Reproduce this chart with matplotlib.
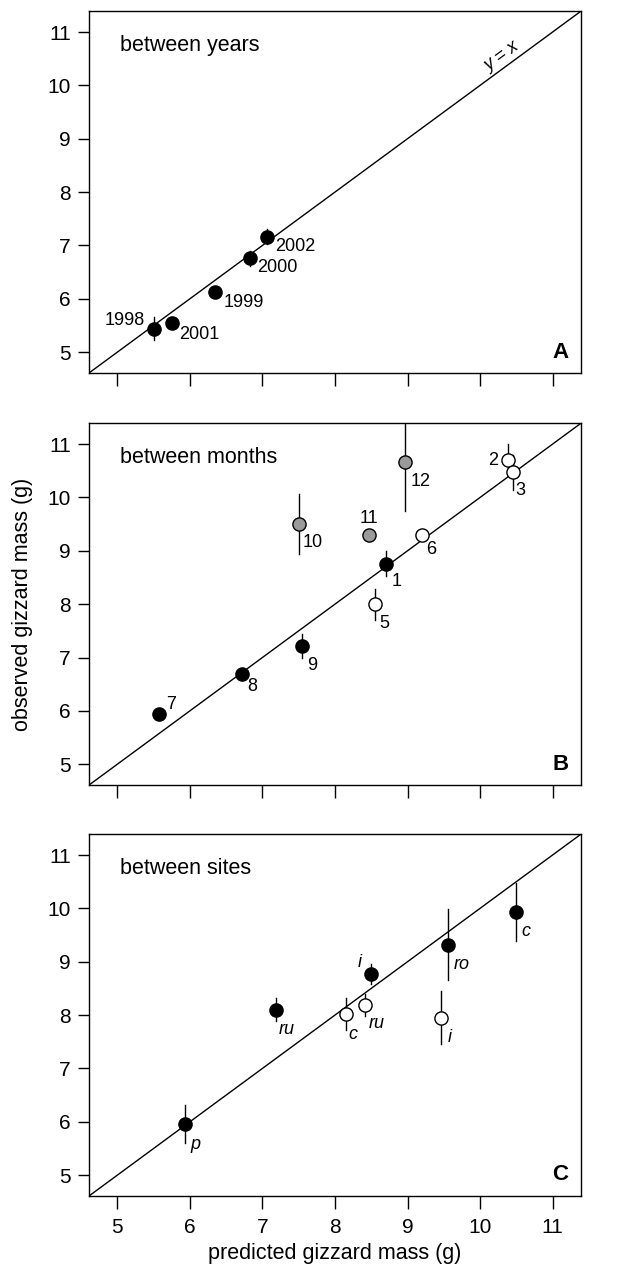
import numpy as np
import matplotlib
matplotlib.use('Agg')
import matplotlib.pyplot as plt

plt.rcParams['font.family'] = ['Liberation Sans', 'DejaVu Sans']

# panel A: between years
yr_labels = ['1998', '2001', '1999', '2000', '2002']
yr_pred = [5.50, 5.75, 6.35, 6.83, 7.06]
yr_obs = [5.44, 5.54, 6.12, 6.76, 7.16]
yr_err = [0.21, 0.08, 0.08, 0.14, 0.14]
yr_fill = ['k', 'k', 'k', 'k', 'k']

# panel B: between months
mo_labels = ['7', '8', '9', '10', '11', '12', '1', '5', '6', '2', '3']
mo_pred = [5.58, 6.72, 7.54, 7.50, 8.47, 8.97, 8.70, 8.55, 9.20, 10.38, 10.45]
mo_obs = [5.94, 6.69, 7.22, 9.50, 9.30, 10.66, 8.76, 8.00, 9.29, 10.71, 10.47]
mo_err = [0.08, 0.08, 0.22, 0.56, 0.08, 0.91, 0.23, 0.29, 0.08, 0.29, 0.33]
mo_fill = ['k', 'k', 'k', '#9a9a9a', '#9a9a9a', '#9a9a9a', 'k', 'w', 'w', 'w', 'w']

# panel C: between sites
si_labels = ['p', 'ru', 'c', 'ru', 'i', 'i', 'ro', 'c']
si_pred = [5.93, 7.19, 8.15, 8.41, 8.49, 9.46, 9.56, 10.50]
si_obs = [5.96, 8.10, 8.02, 8.19, 8.77, 7.95, 9.32, 9.93]
si_err = [0.36, 0.22, 0.30, 0.20, 0.19, 0.50, 0.67, 0.54]
si_fill = ['k', 'k', 'w', 'w', 'k', 'w', 'k', 'k']

# label offsets in points (dx, dy, ha)
yr_off = [(-6, 6, 'right'), (5, -8, 'left'), (6, -7, 'left'), (5, -7, 'left'), (6, -7, 'left')]
mo_off = [(5, 7, 'left'), (4, -9, 'left'), (4, -14, 'left'), (3, -13, 'left'), (0, 12, 'center'),
          (4, -14, 'left'), (4, -13, 'left'), (3, -14, 'left'), (3, -10, 'left'), (-7, -1, 'right'),
          (2, -13, 'left')]
si_off = [(4, -15, 'left'), (2, -14, 'left'), (2, -15, 'left'), (3, -13, 'left'), (-6, 8, 'right'),
          (5, -14, 'left'), (4, -14, 'left'), (4, -14, 'left')]

panels = [
    ('between years', 'A', yr_labels, yr_pred, yr_obs, yr_err, yr_fill, yr_off, 'normal'),
    ('between months', 'B', mo_labels, mo_pred, mo_obs, mo_err, mo_fill, mo_off, 'normal'),
    ('between sites', 'C', si_labels, si_pred, si_obs, si_err, si_fill, si_off, 'italic'),
]

lo, hi = 4.61, 11.39
ticks = np.arange(5, 12)

fig = plt.figure(figsize=(6.38, 12.73), dpi=100)
bottoms = [0.707, 0.3833, 0.0605]

for n, (title, letter, labs, xp, yo, err, fill, offs, style) in enumerate(panels):
    ax = fig.add_axes([0.1395, bottoms[n], 0.771, 0.2842])
    ax.set_xlim(lo, hi)
    ax.set_ylim(lo, hi)
    ax.plot([lo, hi], [lo, hi], color='k', lw=1.0, zorder=1)
    for i in range(len(xp)):
        ax.plot([xp[i], xp[i]], [yo[i] - err[i], yo[i] + err[i]], color='k', lw=1.0, zorder=2)
        ax.plot(xp[i], yo[i], 'o', ms=9.5, mfc=fill[i], mec='k', mew=1.0, zorder=3)
        dx, dy, ha = offs[i]
        ax.annotate(labs[i], (xp[i], yo[i]), xytext=(dx, dy), textcoords='offset points',
                    ha=ha, va='center', fontsize=13, style=style)
    ax.text(0.063, 0.905, title, transform=ax.transAxes, fontsize=15.5, va='center', ha='left')
    ax.text(0.975, 0.058, letter, transform=ax.transAxes, fontsize=16, fontweight='bold',
            va='center', ha='right')
    if n == 0:
        ax.text(10.29, 10.53, 'y = x', fontsize=13, style='italic', rotation=45,
                transform_rotates_text=True, rotation_mode='anchor', ha='center', va='center')
    ax.set_xticks(ticks)
    ax.set_yticks(ticks)
    ax.tick_params(direction='out', length=8, width=1.0, labelsize=15, pad=5)
    ax.tick_params(axis='x', length=9, pad=7)
    if n < 2:
        ax.tick_params(labelbottom=False)
    for s in ax.spines.values():
        s.set_linewidth(1.0)
    if n == 2:
        ax.set_xlabel('predicted gizzard mass (g)', fontsize=15.5, labelpad=4)

fig.text(0.036, 1 - 604 / 1273, 'observed gizzard mass (g)', rotation=90, fontsize=15.5,
         ha='center', va='center')

fig.savefig('out.png', dpi=100)
